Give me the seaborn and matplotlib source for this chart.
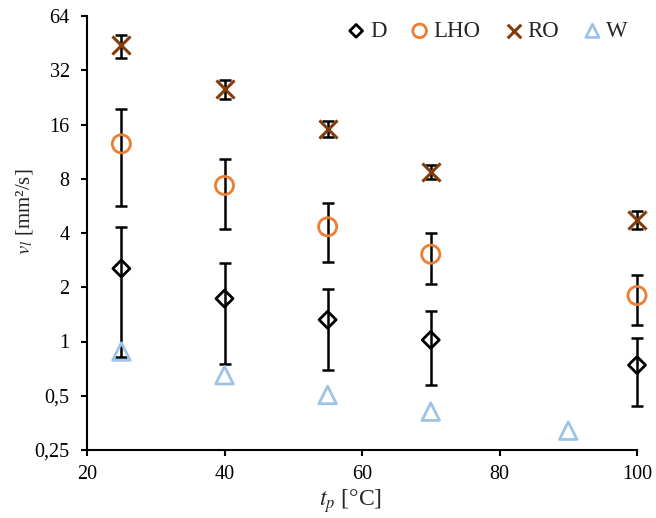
import numpy as np
import pandas as pd
import matplotlib
matplotlib.use("Agg")
import matplotlib.pyplot as plt
from matplotlib.ticker import FixedLocator, FixedFormatter, NullLocator
import seaborn as sns

# -----------------------------
# Data
# -----------------------------
t_main = [25, 40, 55, 70, 100]
t_w = [25, 40, 55, 70, 90]

d_val = [2.54, 1.73, 1.32, 1.02, 0.74]
d_hi = [4.3, 2.71, 1.96, 1.475, 1.04]
d_lo = [0.825, 0.754, 0.695, 0.574, 0.44]

lho_val = [12.5, 7.34, 4.33, 3.05, 1.80]
lho_hi = [19.4, 10.35, 5.88, 4.0, 2.35]
lho_lo = [5.64, 4.2, 2.75, 2.08, 1.23]

ro_val = [44.2, 25.1, 15.06, 8.74, 4.73]
ro_hi = [50.2, 28.3, 16.7, 9.55, 5.29]
ro_lo = [37.4, 22.1, 13.7, 8.0, 4.2]

w_val = [0.88, 0.65, 0.505, 0.408, 0.32]

y_ticks = [0.25, 0.5, 1, 2, 4, 8, 16, 32, 64]
y_labels = ["0,25", "0,5", "1", "2", "4", "8", "16", "32", "64"]

# -----------------------------
# Style
# -----------------------------
sns.set_style("ticks")
plt.rcParams["font.family"] = ["Liberation Serif", "DejaVu Serif"]
plt.rcParams["mathtext.fontset"] = "stix"
plt.rcParams["font.size"] = 14

fig, ax = plt.subplots(figsize=(6.56, 5.18), dpi=100)
fig.subplots_adjust(left=87 / 656, right=637 / 656, top=1 - 16 / 518, bottom=1 - 450 / 518)

# error bars first, markers on top
for vals, hi, lo in [(d_val, d_hi, d_lo), (lho_val, lho_hi, lho_lo), (ro_val, ro_hi, ro_lo)]:
    v = np.array(vals)
    err = [v - np.array(lo), np.array(hi) - v]
    eb = ax.errorbar(t_main, v, yerr=err, fmt="none", ecolor="black",
                     elinewidth=1.8, capsize=4, capthick=1.8, zorder=2)
    for art in eb.lines[1] + eb.lines[2]:
        art.set_clip_on(False)

series = [
    ("D", t_main, d_val, "D", "black", 75),
    ("LHO", t_main, lho_val, "o", "#ED7D31", 170),
    ("RO", t_main, ro_val, "x", "#843C0C", 170),
    ("W", t_w, w_val, "^", "#9DC3E6", 160),
]
for name, xs, ys, mk, col, size in series:
    df = pd.DataFrame({"t": xs, "v": ys})
    if mk == "x":
        sns.scatterplot(data=df, x="t", y="v", marker=mk, color=col, s=size,
                        linewidth=2.2, ax=ax, label=name, zorder=3, clip_on=False)
    else:
        sns.scatterplot(data=df, x="t", y="v", marker=mk, color=col, s=size,
                        facecolors="none", edgecolor=col, linewidth=2,
                        ax=ax, label=name, zorder=3, clip_on=False)

ax.set_yscale("log", base=2)
ax.set_ylim(0.25, 64)
ax.set_xlim(20, 100)
ax.set_xticks([20, 40, 60, 80, 100])
ax.yaxis.set_major_locator(FixedLocator(y_ticks))
ax.yaxis.set_major_formatter(FixedFormatter(y_labels))
ax.yaxis.set_minor_locator(NullLocator())

for s in ["top", "right"]:
    ax.spines[s].set_visible(False)
for s in ["left", "bottom"]:
    ax.spines[s].set_linewidth(1.5)
    ax.spines[s].set_color("black")
ax.tick_params(axis="both", direction="out", length=4.5, width=1.5, labelsize=14.5, colors="black")
ax.tick_params(axis="y", pad=8)
ax.tick_params(axis="x", pad=6)

ax.set_xlabel(r"$t_p$ [°C]", fontsize=17)
ax.set_ylabel(r"$v_l$ [mm²/s]", fontsize=15)
ax.xaxis.set_label_coords(0.48, -0.085)
ax.yaxis.set_label_coords(-0.095, 0.55)

ax.legend(loc="upper right", ncol=4, frameon=False, fontsize=16.5,
          markerscale=0.75, handlelength=0.9, handletextpad=0.15,
          columnspacing=1.0, borderaxespad=0.0,
          bbox_to_anchor=(1.0, 1.01))

fig.savefig("out.png", dpi=100)
